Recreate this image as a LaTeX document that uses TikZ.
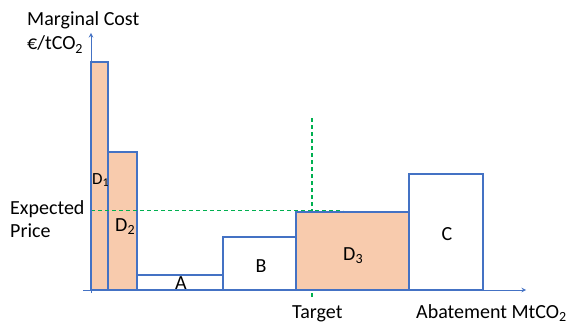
\documentclass[tikz,border=0pt]{standalone}
\usepackage{fontspec}
\setmainfont{Carlito}
\usetikzlibrary{arrows}
\definecolor{axisblue}{RGB}{68,114,196}
\definecolor{peach}{RGB}{248,203,173}
\definecolor{guidegreen}{RGB}{0,176,80}

\begin{document}
\begin{tikzpicture} [x=1pt, y=1pt, >=stealth,
  bar/.style = {draw=axisblue, line width=1.1pt, fill=white, anchor=south west, inner sep=0pt, outer sep=0pt},
  cut/.style = {bar, fill=peach},
  guide/.style = {draw=guidegreen, line width=1.4pt, dash pattern=on 4pt off 3pt},
  txt/.style = {inner sep=0pt, anchor=base west, font=\fontsize{20}{24}\selectfont},
  lbl/.style = {inner sep=0pt, anchor=base, font=\fontsize{20}{24}\selectfont}]
\useasboundingbox (-91,-34) rectangle (478,290);
\coordinate (o) at (0,0);
\coordinate (ybot) at (0,-3);
\coordinate (ytop) at (0,257);
\coordinate (xl) at (-8,0);
\coordinate (xr) at (435,0);
\coordinate (t1) at (221,-7);
\coordinate (t2) at (221,173);
\coordinate (p1) at (0,79.5);
\coordinate (p2) at (252,79.5);
\draw [guide] (t1) -- (t2);
\node[cut, minimum width=17pt, minimum height=228pt] (d1) at (0,0) {};
\node[cut, minimum width=29pt, minimum height=138pt] (d2) at (17,0) {};
\node[bar, minimum width=86pt, minimum height=15pt] (a) at (46,0) {};
\node[bar, minimum width=73pt, minimum height=53pt] (b) at (132,0) {};
\node[cut, minimum width=113pt, minimum height=78pt] (d3) at (205,0) {};
\node[bar, minimum width=74pt, minimum height=116pt] (c) at (318,0) {};
\draw [guide] (p1) -- (p2);
\draw [->, axisblue, line width=1pt] (ybot) -- (ytop);
\draw [->, axisblue, line width=1pt] (xl) -- (xr);
\node[inner sep=0pt, anchor=base west, font=\fontsize{17}{20}\selectfont] (d1lbl) at (1,106) {D\textsubscript{1}};
\node[txt] (d2lbl) at (24,59) {D\textsubscript{2}};
\node[lbl] (albl) at (90,1) {A};
\node[lbl] (blbl) at (170,18) {B};
\node[txt] (d3lbl) at (252,30) {D\textsubscript{3}};
\node[lbl] (clbl) at (356,50) {C};
\node[txt] (mc) at (-64,264) {Marginal Cost};
\node[txt] (unit) at (-64,240) {€/tCO\textsubscript{2}};
\node[txt] (exp) at (-81,76) {Expected};
\node[txt] (price) at (-81,53) {Price};
\node[txt] (target) at (201,-28) {Target};
\node[txt] (abate) at (325,-28) {Abatement MtCO\textsubscript{2}};
\end{tikzpicture}
\end{document}
